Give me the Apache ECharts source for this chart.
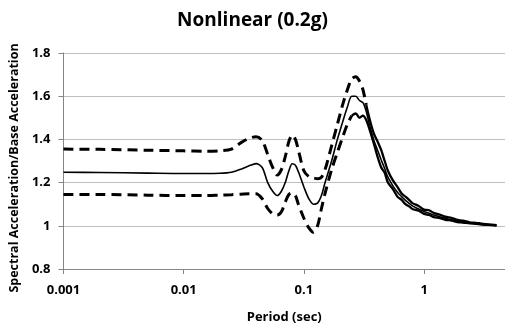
<!DOCTYPE html>
<html>
<head>
<meta charset="utf-8">
<script src="https://cdn.jsdelivr.net/npm/echarts@6/dist/echarts.min.js"></script>
<style>
  html, body { margin: 0; padding: 0; background: #fff; }
  #chart { width: 505px; height: 329px; }
</style>
</head>
<body>
<div id="chart"></div>
<script>
// period (sec), shared by all three curves
const periods = [
  0.001, 0.002, 0.005, 0.01, 0.015, 0.02, 0.025, 0.03, 0.035, 0.04,
  0.045, 0.05, 0.055, 0.06, 0.065, 0.07, 0.075, 0.08, 0.085, 0.09,
  0.1, 0.11, 0.12, 0.13, 0.14, 0.15, 0.17, 0.19, 0.21, 0.23,
  0.25, 0.27, 0.29, 0.31, 0.33, 0.35, 0.38, 0.41, 0.44, 0.47,
  0.5, 0.55, 0.6, 0.65, 0.7, 0.75, 0.8, 0.9, 1.0, 1.1,
  1.2, 1.35, 1.5, 1.7, 1.9, 2.1, 2.4, 2.7, 3.0, 3.4, 4.0
]

const meanRatio = [
  1.248, 1.247, 1.244, 1.242, 1.242, 1.243, 1.248, 1.262, 1.278, 1.288,
  1.27, 1.2, 1.16, 1.14, 1.16, 1.2, 1.255, 1.287, 1.28, 1.25,
  1.18, 1.125, 1.1, 1.105, 1.14, 1.2, 1.3, 1.4, 1.48, 1.55,
  1.6, 1.6, 1.58, 1.57, 1.53, 1.47, 1.40, 1.35, 1.305, 1.265,
  1.225, 1.185, 1.155, 1.135, 1.118, 1.104, 1.092, 1.078, 1.066, 1.058,
  1.05, 1.042, 1.035, 1.028, 1.022, 1.018, 1.014, 1.011, 1.008, 1.005, 1.002
]

const upperRatio = [
  1.355, 1.354, 1.35, 1.347, 1.345, 1.347, 1.355, 1.385, 1.405, 1.412,
  1.395, 1.33, 1.27, 1.235, 1.26, 1.32, 1.39, 1.42, 1.4, 1.35,
  1.255, 1.228, 1.222, 1.218, 1.225, 1.26, 1.37, 1.47, 1.56, 1.63,
  1.68, 1.69, 1.67, 1.63, 1.56, 1.50, 1.43, 1.39, 1.35, 1.30,
  1.255, 1.21, 1.18, 1.15, 1.135, 1.12, 1.105, 1.092, 1.075, 1.072,
  1.06, 1.052, 1.042, 1.036, 1.027, 1.024, 1.016, 1.014, 1.01, 1.007, 1.003
]

const lowerRatio = [
  1.145, 1.145, 1.142, 1.14, 1.14, 1.142, 1.144, 1.146, 1.148, 1.148,
  1.125, 1.08, 1.055, 1.05, 1.065, 1.11, 1.145, 1.152, 1.14, 1.1,
  1.035, 0.99, 0.97, 1.0, 1.08, 1.15, 1.26, 1.34, 1.41, 1.47,
  1.51, 1.52, 1.5, 1.51, 1.49, 1.45, 1.385, 1.32, 1.27, 1.245,
  1.2, 1.17, 1.135, 1.12, 1.1, 1.09, 1.078, 1.07, 1.055, 1.05,
  1.04, 1.036, 1.028, 1.024, 1.017, 1.015, 1.011, 1.009, 1.006, 1.004, 1.001
]

const yTicks = [0.8, 1, 1.2, 1.4, 1.6, 1.8]

// the dense, noisy part of the bounds draws as solid in the original
const upperDashEnd = 0.33
const lowerDashEnd = 0.25

function pairs(vals, from, to) {
  return periods.map((t, i) => (t >= from && t <= to) ? [t, vals[i]] : [t, null])
}

function lineSeries(name, data, width, dashed) {
  return {
    name,
    type: 'line',
    data,
    showSymbol: false,
    smooth: 0.3,
    connectNulls: false,
    lineStyle: { color: '#000', width, type: dashed ? [10, 6] : 'solid' },
    z: dashed ? 3 : 4,
  }
}

const font = '"Open Sans", "Noto Sans", sans-serif'
const chart = echarts.init(document.getElementById('chart'))
chart.setOption({
  animation: false,
  backgroundColor: '#fff',
  title: {
    text: 'Nonlinear (0.2g)',
    left: 'center',
    top: 6,
    textStyle: { fontFamily: font, fontSize: 19, fontWeight: 'bold', color: '#000' },
  },
  grid: { left: 58, right: 0, top: 53, bottom: 60 },
  xAxis: {
    type: 'log',
    logBase: 10,
    min: 0.001,
    max: 4.71,
    name: 'Period (sec)',
    nameLocation: 'middle',
    nameGap: 42,
    nameTextStyle: { fontFamily: font, fontSize: 13, fontWeight: 'bold', color: '#000' },
    axisLine: { lineStyle: { color: '#868686' } },
    axisTick: { show: true, length: 5, lineStyle: { color: '#868686' } },
    axisLabel: {
      fontFamily: font, fontSize: 13, fontWeight: 'bold', color: '#000', margin: 15,
      showMaxLabel: false,
      formatter: v => String(+v.toPrecision(3)),
    },
    splitLine: { show: false },
  },
  yAxis: {
    type: 'value',
    min: yTicks[0],
    max: yTicks[yTicks.length - 1],
    interval: 0.2,
    name: 'Spectral Acceleration/Base Acceleration',
    nameLocation: 'middle',
    nameGap: 34,
    nameTextStyle: { fontFamily: font, fontSize: 12.5, fontWeight: 'bold', color: '#000', padding: [0, 0, 0, -14] },
    axisLine: { show: true, lineStyle: { color: '#868686' } },
    axisTick: { show: true, length: 5, lineStyle: { color: '#868686' } },
    axisLabel: {
      fontFamily: font, fontSize: 13, fontWeight: 'bold', color: '#000', margin: 13,
      formatter: v => String(+v.toFixed(1)),
    },
    splitLine: { show: true, lineStyle: { color: '#bfbfbf', width: 1 } },
  },
  series: [
    lineSeries('upper', pairs(upperRatio, 0, upperDashEnd), 3, true),
    lineSeries('upper tail', pairs(upperRatio, upperDashEnd, 10), 2.3, false),
    lineSeries('lower', pairs(lowerRatio, 0, lowerDashEnd), 3, true),
    lineSeries('lower tail', pairs(lowerRatio, lowerDashEnd, 10), 2.3, false),
    lineSeries('mean', pairs(meanRatio, 0, 10), 1.6, false),
  ],
})
</script>
</body>
</html>
